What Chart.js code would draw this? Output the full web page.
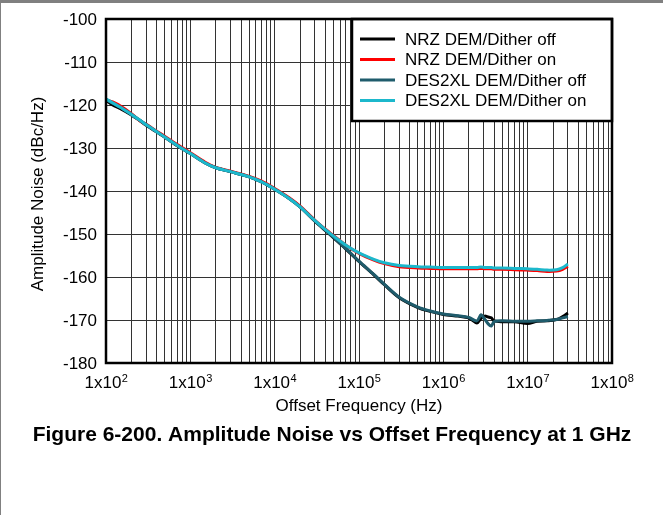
<!DOCTYPE html>
<html>
<head>
<meta charset="utf-8">
<script src="https://cdn.jsdelivr.net/npm/chart.js@4.4.1/dist/chart.umd.min.js"></script>
<style>
  body { margin: 0; background: #fff; }
  #wrap { position: relative; width: 663px; height: 515px; }
  #wrap::before { content: ''; position: absolute; left: 0; top: 0; width: 663px; height: 3px; background: #808080; }
  #wrap::after { content: ''; position: absolute; left: 0; top: 0; width: 1px; height: 515px; background: #808080; }
  canvas { display: block; }
</style>
</head>
<body>
<div id="wrap"><canvas id="noiseChart" width="663" height="515"></canvas></div>
<script>
// offset frequency (Hz)
const freq = [100, 120, 150, 200, 250, 300, 400, 500, 700, 1000,
  1500, 2000, 3000, 5000, 7000, 1e4, 1.5e4, 2e4, 3e4, 4e4,
  5e4, 7e4, 1e5, 1.5e5, 2e5, 3e5, 5e5, 7e5, 1e6, 1.5e6,
  2e6, 2.5e6, 2.8e6, 3.1e6, 3.4e6, 3.7e6, 4e6, 5e6, 7e6, 1e7,
  1.3e7, 1.7e7, 2.2e7, 2.6e7, 3e7];

// amplitude noise (dBc/Hz)
const nrzOff = [-118.9, -120.0, -120.9, -122.3, -123.6, -124.7, -126.3, -127.5, -129.5, -131.3,
  -133.5, -134.6, -135.5, -136.7, -137.9, -139.6, -141.8, -143.7, -147.0, -149.2,
  -150.9, -153.5, -156.4, -159.5, -161.8, -164.8, -167.1, -168.0, -168.7, -169.1,
  -169.5, -170.7, -169.6, -169.1, -169.3, -169.5, -170.2, -170.4, -170.4, -170.8,
  -170.3, -170.2, -169.9, -169.2, -168.4];
const nrzOn = [-118.8, -119.3, -120.3, -122.0, -123.6, -124.5, -126.1, -127.3, -129.2, -131.1,
  -133.3, -134.5, -135.4, -136.6, -137.7, -139.4, -141.6, -143.5, -146.8, -148.9,
  -150.4, -152.6, -154.5, -156.1, -156.9, -157.6, -157.9, -158.0, -158.1, -158.1,
  -158.1, -158.1, -158.0, -158.1, -158.1, -158.1, -158.2, -158.2, -158.3, -158.4,
  -158.5, -158.7, -158.6, -158.2, -157.5];
const desOff = [-118.7, -119.6, -120.6, -122.2, -123.5, -124.6, -126.2, -127.5, -129.4, -131.3,
  -133.5, -134.6, -135.5, -136.7, -137.9, -139.6, -141.8, -143.7, -146.9, -149.1,
  -150.8, -153.4, -156.3, -159.4, -161.7, -164.7, -167.0, -167.9, -168.6, -169.0,
  -169.4, -170.2, -168.8, -169.8, -170.9, -171.4, -170.4, -170.2, -170.3, -170.3,
  -170.2, -170.1, -169.9, -169.5, -169.2];
const desOn = [-118.6, -119.5, -120.6, -122.2, -123.5, -124.6, -126.2, -127.5, -129.4, -131.3,
  -133.5, -134.6, -135.5, -136.7, -137.9, -139.6, -141.8, -143.7, -146.9, -149.0,
  -150.5, -152.6, -154.4, -155.9, -156.7, -157.3, -157.6, -157.7, -157.8, -157.8,
  -157.8, -157.8, -157.7, -157.8, -157.8, -157.8, -157.9, -157.9, -158.0, -158.1,
  -158.2, -158.4, -158.3, -157.8, -157.0];

const seriesNames = ['NRZ DEM/Dither off', 'NRZ DEM/Dither on', 'DES2XL DEM/Dither off', 'DES2XL DEM/Dither on'];
const yTickLabels = [-100, -110, -120, -130, -140, -150, -160, -170, -180];
const xTickExponents = [2, 3, 4, 5, 6, 7, 8];

const FONT = '"Liberation Sans", Arial, sans-serif';

// grid lines at 1..9 x 10^n
const gridValues = [];
for (let e = 2; e < 8; e++) {
  for (let k = 1; k <= 9; k++) gridValues.push(k * Math.pow(10, e));
}
gridValues.push(1e8);

const toPoints = vals => freq.map((f, i) => ({ x: f, y: vals[i] }));

// legend, tick labels, titles and frame drawn on top of the plot
const figurePlugin = {
    id: 'figure',
    afterDraw(chart) {
        const { ctx, chartArea: a } = chart;
        const xs = chart.scales.x;
        const ys = chart.scales.y;
        ctx.save();
        ctx.fillStyle = '#000';

        // legend box
        const lw = 260, lh = 102;
        ctx.fillStyle = '#fff';
        ctx.fillRect(a.right - lw, a.top, lw, lh);
        ctx.strokeStyle = '#000';
        ctx.lineWidth = 2.5;
        ctx.strokeRect(a.right - lw, a.top, lw, lh);
        ctx.font = '17px ' + FONT;
        ctx.textAlign = 'left';
        ctx.textBaseline = 'middle';
        chart.data.datasets.forEach((ds, i) => {
            const yy = a.top + 20 + i * 20.5;
            ctx.strokeStyle = ds.borderColor;
            ctx.lineWidth = 3;
            ctx.beginPath();
            ctx.moveTo(a.right - lw + 8, yy);
            ctx.lineTo(a.right - lw + 43, yy);
            ctx.stroke();
            ctx.fillStyle = '#000';
            ctx.fillText(ds.label, a.right - lw + 53, yy + 1);
        });

        // plot frame
        ctx.strokeStyle = '#000';
        ctx.lineWidth = 2.5;
        ctx.strokeRect(a.left, a.top, a.right - a.left, a.bottom - a.top);

        // y tick labels
        ctx.fillStyle = '#000';
        ctx.font = '17px ' + FONT;
        ctx.textAlign = 'right';
        ctx.textBaseline = 'middle';
        yTickLabels.forEach(v => ctx.fillText(String(v), a.left - 9, ys.getPixelForValue(v) + 1));

        // x tick labels 1x10^n
        ctx.textAlign = 'left';
        ctx.textBaseline = 'alphabetic';
        xTickExponents.forEach(e => {
            const px = xs.getPixelForValue(Math.pow(10, e));
            ctx.font = '17px ' + FONT;
            const wb = ctx.measureText('1x10').width;
            ctx.font = '11px ' + FONT;
            const we = ctx.measureText(String(e)).width;
            const left = px - (wb + we) / 2;
            ctx.font = '17px ' + FONT;
            ctx.fillText('1x10', left, a.bottom + 25);
            ctx.font = '11px ' + FONT;
            ctx.fillText(String(e), left + wb + 0.5, a.bottom + 19);
        });

        // axis titles
        ctx.font = '17px ' + FONT;
        ctx.textAlign = 'center';
        ctx.fillText('Offset Frequency (Hz)', (a.left + a.right) / 2, a.bottom + 48);
        ctx.save();
        ctx.translate(43, 194);
        ctx.rotate(-Math.PI / 2);
        ctx.fillText('Amplitude Noise (dBc/Hz)', 0, 0);
        ctx.restore();

        // caption
        ctx.font = 'bold 21px ' + FONT;
        ctx.fillText('Figure 6-200. Amplitude Noise vs Offset Frequency at 1 GHz', 332, 441);
        ctx.restore();
    }
};

document.addEventListener('DOMContentLoaded', () => {
    const ctx = document.getElementById('noiseChart').getContext('2d');
    const colors = ['#000000', '#ff0000', '#1f5c6c', '#1cb8cc'];
    const series = [nrzOff, nrzOn, desOff, desOn];

    new Chart(ctx, {
        type: 'line',
        data: {
            datasets: series.map((vals, i) => ({
                label: seriesNames[i],
                data: toPoints(vals),
                borderColor: colors[i],
                backgroundColor: colors[i],
                borderWidth: 3,
                pointRadius: 0,
                tension: 0.3,
                fill: false,
                order: 4 - i,
            })),
        },
        options: {
            responsive: false,
            animation: false,
            layout: { padding: { left: 106, right: 51, top: 19, bottom: 152 } },
            plugins: {
                legend: { display: false },
                tooltip: { enabled: false },
            },
            scales: {
                x: {
                    type: 'logarithmic',
                    min: 100,
                    max: 1e8,
                    afterBuildTicks: axis => { axis.ticks = gridValues.map(v => ({ value: v })); },
                    ticks: { display: false },
                    grid: { color: '#333', lineWidth: 1, drawTicks: false },
                    border: { display: false },
                },
                y: {
                    type: 'linear',
                    min: -180,
                    max: -100,
                    ticks: { display: false, stepSize: 10 },
                    grid: { color: '#333', lineWidth: 1, drawTicks: false },
                    border: { display: false },
                },
            },
        },
        plugins: [figurePlugin],
    });
});
</script>
</body>
</html>
